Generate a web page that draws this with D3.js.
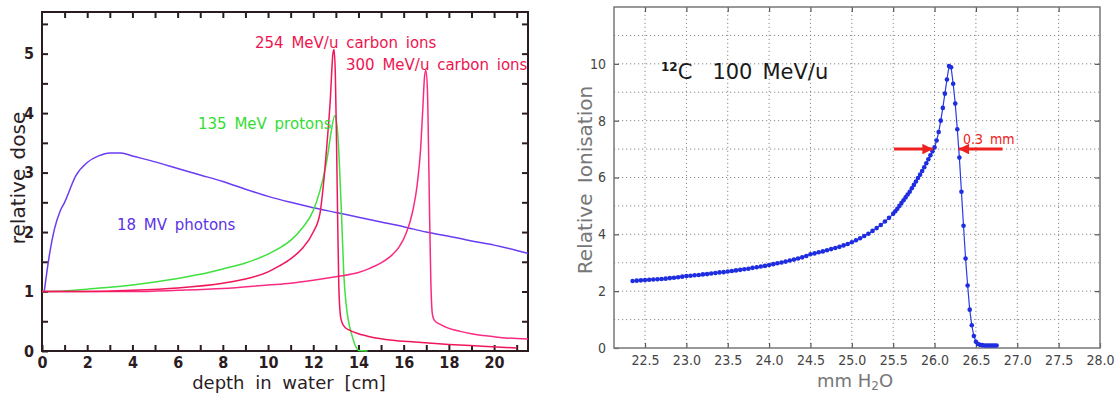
<!DOCTYPE html>
<html>
<head>
<meta charset="utf-8">
<script src="https://cdn.jsdelivr.net/npm/d3@7"></script>
<style>
  body { margin: 0; background: #fff; }
  svg { display: block; }
</style>
</head>
<body>
<div id="chart"></div>
<script>
//// DATA
// left panel - depth dose curves (depth in cm, relative dose)
const depthPhoton = [0.1, 0.3, 0.55, 0.8, 1.0, 1.5, 2.0, 2.5, 3.0, 3.5, 4.0, 5, 6, 7, 8, 9, 10, 11, 12, 13, 14, 15, 16, 17, 18, 19, 20, 21, 21.5];
const dosePhoton = [1.0, 1.55, 2.05, 2.35, 2.5, 2.95, 3.17, 3.28, 3.33, 3.33, 3.28, 3.18, 3.07, 2.96, 2.85, 2.72, 2.6, 2.5, 2.41, 2.33, 2.25, 2.17, 2.09, 2.0, 1.93, 1.85, 1.78, 1.69, 1.64];

const depthProton = [0, 1, 2, 3, 4, 5, 6, 7, 8, 9, 10, 10.5, 11, 11.5, 12, 12.3, 12.6, 12.8, 12.95, 13.05, 13.15, 13.25, 13.35, 13.45, 13.55, 13.7, 13.85, 14.0, 14.4];
const doseProton = [1.0, 1.01, 1.04, 1.07, 1.11, 1.16, 1.22, 1.29, 1.38, 1.48, 1.63, 1.73, 1.86, 2.06, 2.36, 2.7, 3.2, 3.7, 3.96, 3.8, 3.2, 2.3, 1.3, 0.8, 0.52, 0.28, 0.1, 0.01, 0.0];

const depthC254 = [0, 2, 4, 6, 8, 9, 10, 10.5, 11, 11.5, 12, 12.3, 12.45, 12.6, 12.75, 12.87, 12.92, 12.98, 13.03, 13.08, 13.13, 13.2, 13.28, 13.4, 13.6, 14.0, 14.5, 15.5, 16.5, 18, 19.5, 21.0];
const doseC254 = [1.0, 1.0, 1.02, 1.06, 1.14, 1.21, 1.33, 1.43, 1.55, 1.72, 2.0, 2.32, 2.8, 3.45, 4.2, 5.0, 5.07, 4.6, 3.5, 2.2, 1.1, 0.6, 0.47, 0.4, 0.35, 0.29, 0.24, 0.18, 0.15, 0.11, 0.08, 0.05];

const depthC300 = [0, 2, 4, 6, 8, 10, 11, 12, 13, 14, 14.5, 15, 15.5, 15.8, 16.1, 16.4, 16.6, 16.75, 16.85, 16.92, 16.98, 17.05, 17.1, 17.15, 17.2, 17.27, 17.35, 17.6, 18, 18.5, 19, 19.5, 20, 20.5, 21, 21.5];
const doseC300 = [1.0, 1.0, 1.0, 1.02, 1.05, 1.11, 1.14, 1.19, 1.25, 1.32, 1.39, 1.48, 1.62, 1.75, 1.97, 2.35, 2.8, 3.4, 4.1, 4.6, 4.72, 4.4, 3.4, 2.2, 1.2, 0.62, 0.52, 0.45, 0.38, 0.33, 0.29, 0.26, 0.24, 0.22, 0.21, 0.2];

// right panel - 12C 100 MeV/u bragg peak (mm H2O, relative ionisation)
const mmWater = [
  22.35, 22.40, 22.45, 22.50, 22.55, 22.60, 22.65, 22.70, 22.75, 22.80, 22.85, 22.90, 22.95,
  23.00, 23.05, 23.10, 23.15, 23.20, 23.25, 23.30, 23.35, 23.40, 23.45, 23.50, 23.55, 23.60,
  23.65, 23.70, 23.75, 23.80, 23.85, 23.90, 23.95, 24.00, 24.05, 24.10, 24.15, 24.20, 24.25,
  24.30, 24.35, 24.40, 24.45, 24.50, 24.55, 24.60, 24.65, 24.70, 24.75, 24.80, 24.85, 24.90,
  24.95, 25.00, 25.05, 25.10, 25.15, 25.20, 25.25, 25.30, 25.35, 25.40, 25.45, 25.50,
  25.525, 25.55, 25.575, 25.60, 25.625, 25.65, 25.675, 25.70, 25.725, 25.75, 25.775, 25.80,
  25.825, 25.85, 25.875, 25.90, 25.925, 25.95, 25.975, 26.00, 26.025, 26.05, 26.075, 26.10,
  26.125, 26.15, 26.175, 26.20, 26.225, 26.25, 26.275, 26.30, 26.325, 26.35, 26.375, 26.40,
  26.425, 26.45, 26.475, 26.50, 26.525, 26.55, 26.575, 26.60, 26.625, 26.65, 26.675, 26.70,
  26.725, 26.75
];
const ionisation = [
  2.36, 2.37, 2.38, 2.39, 2.40, 2.41, 2.42, 2.43, 2.44, 2.46, 2.47, 2.49, 2.51,
  2.53, 2.54, 2.56, 2.57, 2.59, 2.60, 2.62, 2.64, 2.66, 2.67, 2.69, 2.71, 2.73,
  2.75, 2.77, 2.79, 2.82, 2.84, 2.87, 2.89, 2.92, 2.95, 2.98, 3.01, 3.04, 3.08,
  3.11, 3.15, 3.19, 3.24, 3.30, 3.33, 3.37, 3.40, 3.44, 3.48, 3.52, 3.56, 3.61,
  3.66, 3.72, 3.79, 3.86, 3.94, 4.02, 4.12, 4.22, 4.33, 4.45, 4.58, 4.72,
  4.81, 4.90, 5.00, 5.10, 5.20, 5.30, 5.40, 5.50, 5.62, 5.74, 5.86, 5.98,
  6.10, 6.23, 6.36, 6.50, 6.64, 6.78, 6.92, 7.06, 7.30, 7.60, 8.00, 8.45,
  8.95, 9.45, 9.92, 9.88, 9.30, 8.60, 7.70, 6.70, 5.50, 4.30, 3.15, 2.20,
  1.35, 0.80, 0.42, 0.22, 0.14, 0.11, 0.10, 0.09, 0.09, 0.09, 0.09, 0.09,
  0.09, 0.09
];

// tick labels
const leftXTicks = [0, 2, 4, 6, 8, 10, 12, 14, 16, 18, 20];
const leftYTicks = [0, 1, 2, 3, 4, 5];
const rightXTicks = [22.5, 23.0, 23.5, 24.0, 24.5, 25.0, 25.5, 26.0, 26.5, 27.0, 27.5, 28.0];
const rightYTicks = [0, 2, 4, 6, 8, 10];

// fwhm arrows (from, to) at level 7
const fwhmLevel = 7;
const arrowLeft = [25.51, 25.98];
const arrowRight = [26.82, 26.29];

//// SETUP
const svg = d3.select('#chart').append('svg').attr('width', 1117).attr('height', 394);

// LEFT PANEL
const inkL = '#2b1d1f';
const xL = d3.scaleLinear().domain([0, 21.5]).range([42, 528]);
const yL = d3.scaleLinear().domain([0, 5.7]).range([351, 12]);
const gL = svg.append('g');

// ticks on all 4 sides, pointing inward
const tickFontL = 'DejaVu Sans Condensed, DejaVu Sans, sans-serif';
const axB = gL.append('g').attr('transform', 'translate(0,' + yL(0) + ')')
  .call(d3.axisBottom(xL).tickValues(d3.range(0, 21.01, 1)).tickSizeInner(-6).tickSizeOuter(0).tickPadding(6)
    .tickFormat(d => leftXTicks.includes(d) ? d : ''));
const axT = gL.append('g').attr('transform', 'translate(0,' + yL(5.7) + ')')
  .call(d3.axisTop(xL).tickValues(d3.range(1, 21.01, 1)).tickSizeInner(-6).tickSizeOuter(0).tickFormat(''));
const axLft = gL.append('g').attr('transform', 'translate(' + xL(0) + ',0)')
  .call(d3.axisLeft(yL).tickValues(d3.range(0, 5.51, 0.5)).tickSizeInner(-6).tickSizeOuter(0).tickPadding(8)
    .tickFormat(d => leftYTicks.includes(d) ? d : ''));
const axR = gL.append('g').attr('transform', 'translate(' + xL(21.5) + ',0)')
  .call(d3.axisRight(yL).tickValues(d3.range(0.5, 5.51, 0.5)).tickSizeInner(-6).tickSizeOuter(0).tickFormat(''));

[axB, axT, axLft, axR].forEach(function(a) {
  a.select('.domain').remove();
  a.selectAll('line').attr('stroke', inkL).attr('stroke-width', 2);
  a.selectAll('text').attr('fill', inkL).style('font-family', tickFontL)
    .style('font-size', '16px').style('font-weight', 'bold');
});

gL.append('rect')
  .attr('x', xL(0)).attr('y', yL(5.7))
  .attr('width', xL(21.5) - xL(0)).attr('height', yL(0) - yL(5.7))
  .attr('fill', 'none').attr('stroke', inkL).attr('stroke-width', 2);

// curves
const lineL = d3.line().x(d => xL(d[0])).y(d => yL(d[1])).curve(d3.curveMonotoneX);
const curvesL = [
  {xs: depthPhoton, ys: dosePhoton, color: '#6a3cf2'},
  {xs: depthProton, ys: doseProton, color: '#3fe03f'},
  {xs: depthC300, ys: doseC300, color: '#fa2a80'},
  {xs: depthC254, ys: doseC254, color: '#f0165a'}
];
curvesL.forEach(function(c) {
  gL.append('path')
    .datum(c.xs.map((v, i) => [v, c.ys[i]]))
    .attr('d', lineL)
    .attr('fill', 'none')
    .attr('stroke', c.color)
    .attr('stroke-width', 1.5);
});

// curve labels
const labelFont = 'DejaVu Sans, sans-serif';
const labelsL = [
  {text: '254 MeV/u carbon ions', x: 255, y: 48, color: '#ee1450'},
  {text: '300 MeV/u carbon ions', x: 346, y: 70, color: '#ee1450'},
  {text: '135 MeV protons', x: 198, y: 129, color: '#33dd33'},
  {text: '18 MV photons', x: 117, y: 230, color: '#5a33e6'}
];
gL.selectAll('.curve-label')
  .data(labelsL)
  .enter()
  .append('text')
  .attr('class', 'curve-label')
  .attr('x', d => d.x).attr('y', d => d.y)
  .attr('fill', d => d.color)
  .style('font-family', labelFont).style('font-size', '15px').style('word-spacing', '3px')
  .text(d => d.text);

// axis titles
gL.append('text')
  .attr('transform', 'translate(25,178) rotate(-90)')
  .attr('text-anchor', 'middle')
  .attr('fill', inkL)
  .style('font-family', labelFont).style('font-size', '20px').style('word-spacing', '3px')
  .text('relative dose');
gL.append('text')
  .attr('x', 289).attr('y', 389)
  .attr('text-anchor', 'middle')
  .attr('fill', inkL)
  .style('font-family', labelFont).style('font-size', '18px').style('word-spacing', '5px')
  .text('depth in water [cm]');

// RIGHT PANEL
const inkR = '#777';
const xR = d3.scaleLinear().domain([22.125, 28.0]).range([614, 1100]);
const yR = d3.scaleLinear().domain([0, 12]).range([348, 7]);
const gR = svg.append('g');

// dotted grid
gR.selectAll('.grid-x')
  .data(rightXTicks.slice(0, -1))
  .enter()
  .append('line')
  .attr('x1', d => xR(d)).attr('x2', d => xR(d))
  .attr('y1', yR(0)).attr('y2', yR(12))
  .attr('stroke', '#8a8a8a').attr('stroke-width', 1).attr('stroke-dasharray', '1.2,2.8');
gR.selectAll('.grid-y')
  .data(d3.range(1, 12, 1))
  .enter()
  .append('line')
  .attr('x1', xR(22.125)).attr('x2', xR(28.0))
  .attr('y1', d => yR(d)).attr('y2', d => yR(d))
  .attr('stroke', '#8a8a8a').attr('stroke-width', 1).attr('stroke-dasharray', '1.2,2.8');

const tickFontR = 'DejaVu Sans Condensed, DejaVu Sans, sans-serif';
const axRB = gR.append('g').attr('transform', 'translate(0,' + yR(0) + ')')
  .call(d3.axisBottom(xR).tickValues(rightXTicks).tickSizeInner(-5).tickSizeOuter(0).tickPadding(7)
    .tickFormat(d3.format('.1f')));
const axRT = gR.append('g').attr('transform', 'translate(0,' + yR(12) + ')')
  .call(d3.axisTop(xR).tickValues(rightXTicks.slice(0, -1)).tickSizeInner(-5).tickSizeOuter(0).tickFormat(''));
const axRL = gR.append('g').attr('transform', 'translate(' + xR(22.125) + ',0)')
  .call(d3.axisLeft(yR).tickValues(rightYTicks).tickSizeInner(-5).tickSizeOuter(0).tickPadding(8));
const axRR = gR.append('g').attr('transform', 'translate(' + xR(28.0) + ',0)')
  .call(d3.axisRight(yR).tickValues(rightYTicks.slice(1)).tickSizeInner(-5).tickSizeOuter(0).tickFormat(''));

[axRB, axRT, axRL, axRR].forEach(function(a) {
  a.select('.domain').remove();
  a.selectAll('line').attr('stroke', '#555').attr('stroke-width', 1.2);
  a.selectAll('text').attr('fill', '#444').style('font-family', tickFontR).style('font-size', '14px');
});

gR.append('rect')
  .attr('x', xR(22.125)).attr('y', yR(12))
  .attr('width', xR(28.0) - xR(22.125)).attr('height', yR(0) - yR(12))
  .attr('fill', 'none').attr('stroke', inkR).attr('stroke-width', 1.5);

// bragg curve, line + dots
const braggData = mmWater.map((v, i) => [v, ionisation[i]]);
gR.append('path')
  .datum(braggData)
  .attr('d', d3.line().x(d => xR(d[0])).y(d => yR(d[1])))
  .attr('fill', 'none').attr('stroke', '#2a3ae8').attr('stroke-width', 1.2);
gR.selectAll('.dot')
  .data(braggData)
  .enter()
  .append('circle')
  .attr('class', 'dot')
  .attr('cx', d => xR(d[0])).attr('cy', d => yR(d[1]))
  .attr('r', 2.3)
  .attr('fill', '#1f2de0');

// fwhm arrows
const defs = svg.append('defs');
defs.append('marker')
  .attr('id', 'arrowHead')
  .attr('viewBox', '0 0 10 10')
  .attr('refX', 10).attr('refY', 5)
  .attr('markerWidth', 4.5).attr('markerHeight', 3.5)
  .attr('markerUnits', 'strokeWidth')
  .attr('orient', 'auto')
  .append('path').attr('d', 'M0,0 L10,5 L0,10 Z').attr('fill', '#ee2020');

[arrowLeft, arrowRight].forEach(function(a) {
  gR.append('line')
    .attr('x1', xR(a[0])).attr('x2', xR(a[1]))
    .attr('y1', yR(fwhmLevel)).attr('y2', yR(fwhmLevel))
    .attr('stroke', '#ee2020').attr('stroke-width', 3)
    .attr('marker-end', 'url(#arrowHead)');
});
gR.append('text')
  .attr('x', 963).attr('y', 144)
  .attr('fill', '#ee2020')
  .style('font-family', tickFontR).style('font-size', '14px').style('word-spacing', '3px')
  .text('0.3 mm');

// annotation 12C 100 MeV/u
const title = gR.append('text')
  .attr('x', 661).attr('y', 79)
  .attr('fill', '#1a1a1a')
  .style('font-family', 'DejaVu Sans, sans-serif').style('font-size', '21px');
title.append('tspan').attr('dy', -8).style('font-size', '12px').style('font-weight', 'bold').text('12');
title.append('tspan').attr('dy', 8).text('C');
title.append('tspan').attr('dx', 20).text('100');
title.append('tspan').attr('dx', 10).text('MeV/u');

// axis titles
gR.append('text')
  .attr('transform', 'translate(592,180) rotate(-90)')
  .attr('text-anchor', 'middle')
  .attr('fill', inkR)
  .style('font-family', 'DejaVu Sans, sans-serif').style('font-size', '20px').style('word-spacing', '4px')
  .text('Relative Ionisation');
const xTitleR = gR.append('text')
  .attr('x', 855).attr('y', 387)
  .attr('text-anchor', 'middle')
  .attr('fill', inkR)
  .style('font-family', 'DejaVu Sans, sans-serif').style('font-size', '18px');
xTitleR.append('tspan').text('mm  H');
xTitleR.append('tspan').attr('dy', 3).style('font-size', '12px').text('2');
xTitleR.append('tspan').attr('dy', -3).text('O');
</script>
</body>
</html>
